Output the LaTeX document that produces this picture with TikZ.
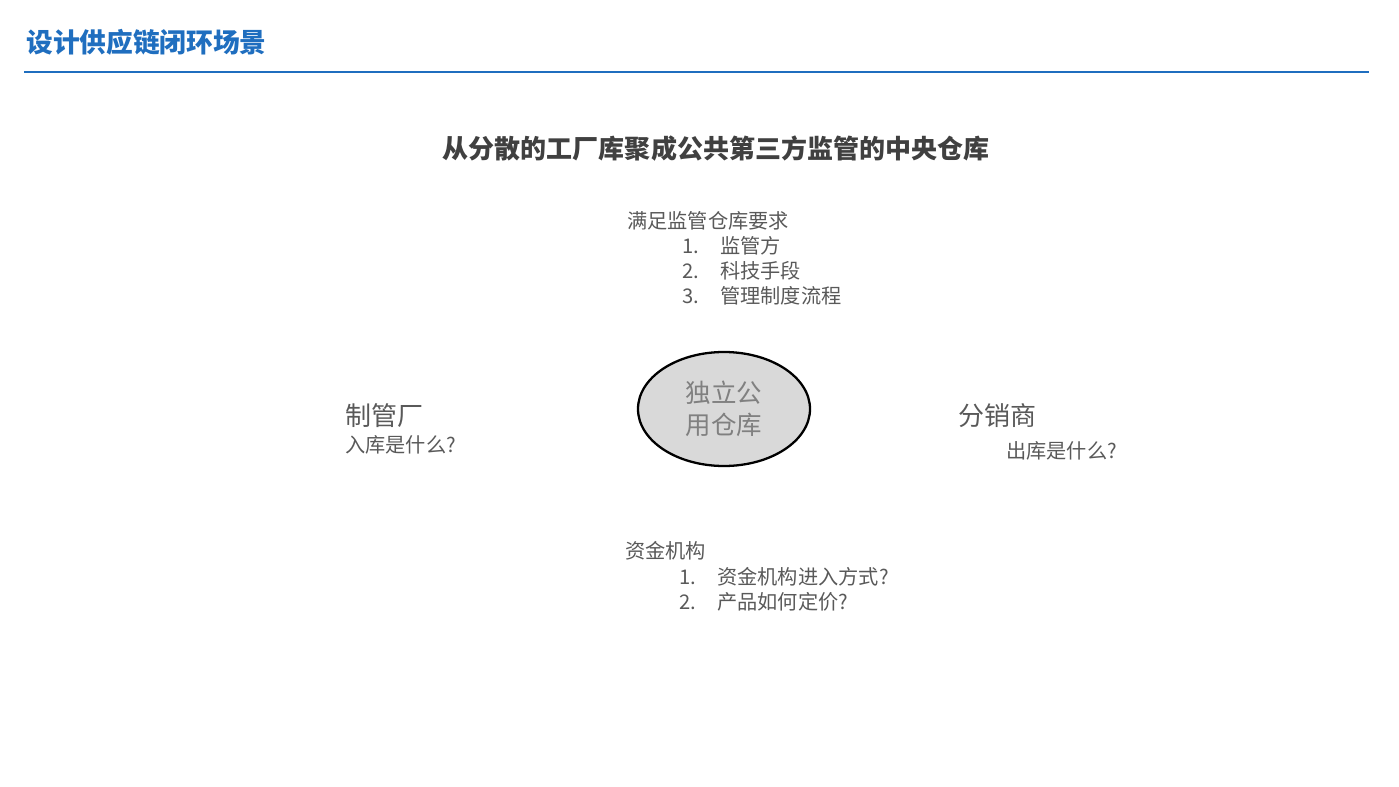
\documentclass[tikz,border=0pt]{standalone}
\usepackage{fontspec}
\setmainfont{Noto Sans CJK SC}
\usepackage{tikz}
\usetikzlibrary{shapes, backgrounds, calc}

\definecolor{headblue}{HTML}{1F6EBF}
\definecolor{darktext}{HTML}{404040}
\definecolor{greytext}{HTML}{595959}
\definecolor{fillgrey}{HTML}{D9D9D9}
\definecolor{cgrey}{HTML}{808080}

\tikzset{
  plain/.style = {inner sep = 0pt, anchor = west, text = greytext},
  small/.style = {plain, font = \fontsize{11.5}{13}\selectfont},
  big/.style = {plain, font = \fontsize{14.8}{17}\selectfont}
}

\begin{document}
\begin{tikzpicture}[x = 0.02cm, y = -0.02cm]
	\useasboundingbox (0, 0) rectangle (1399, 787);

	\node[plain, text = headblue, font = \fontsize{15.2}{17}\selectfont\bfseries] (head) at (26, 42) {设计供应链闭环场景};
	\coordinate (L) at (24, 72);
	\coordinate (R) at (1369, 72);
	\draw[headblue, line width = 1.7pt] (L) -- (R);

	\node[inner sep = 0pt, text = darktext, font = \fontsize{14.8}{17}\selectfont\bfseries] (sub) at (716, 149) {从分散的工厂库聚成公共第三方监管的中央仓库};

	\node[ellipse, draw = black, line width = 1.3pt, fill = fillgrey, minimum width = 172*0.02cm, minimum height = 114*0.02cm, inner sep = 0pt,
		text = cgrey, align = center, font = \fontsize{14.5}{18}\selectfont] (store) at (724, 409) {独立公\\用仓库};

	\node[small] (req) at (627, 221) {满足监管仓库要求};
	\node[small] (r1n) at (682, 246) {1.};
	\node[small] (r1) at (720, 246) {监管方};
	\node[small] (r2n) at (682, 271) {2.};
	\node[small] (r2) at (720, 271) {科技手段};
	\node[small] (r3n) at (682, 296) {3.};
	\node[small] (r3) at (720, 296) {管理制度流程};

	\node[big] (maker) at (345, 416) {制管厂};
	\node[small] (in) at (345, 445) {入库是什么?};

	\node[big] (dist) at (958, 416) {分销商};
	\node[small] (out) at (1006, 451) {出库是什么?};

	\node[small] (fund) at (625, 551) {资金机构};
	\node[small] (f1n) at (679, 577) {1.};
	\node[small] (f1) at (717, 577) {资金机构进入方式?};
	\node[small] (f2n) at (679, 602) {2.};
	\node[small] (f2) at (717, 602) {产品如何定价?};
\end{tikzpicture}
\end{document}
